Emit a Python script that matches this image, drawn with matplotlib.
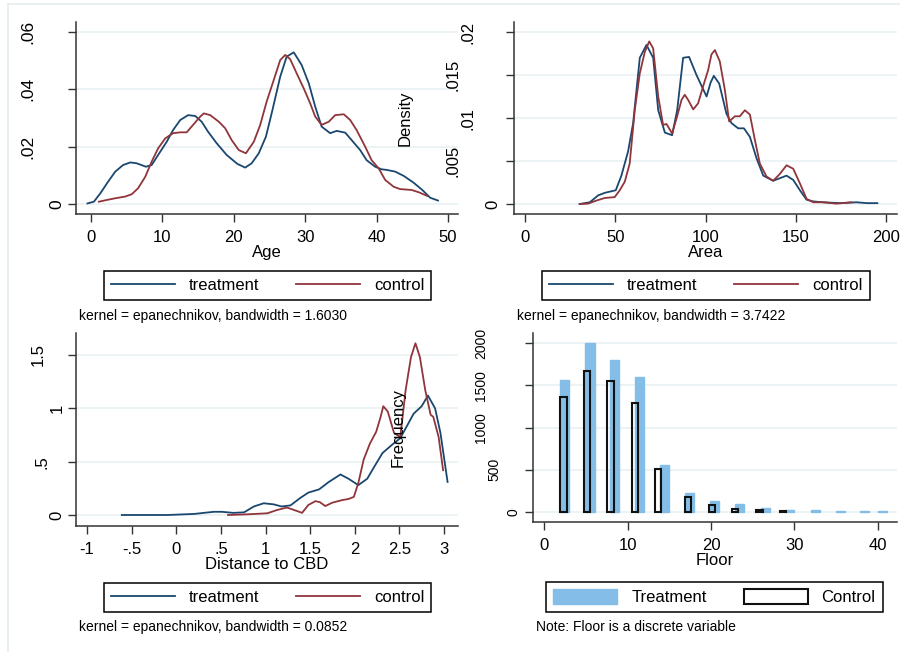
import matplotlib
matplotlib.use("Agg")
import matplotlib.pyplot as plt
from matplotlib.lines import Line2D
from matplotlib.patches import Patch

plt.rcParams['font.family'] = ['Liberation Sans', 'DejaVu Sans']

# ---------------- data ----------------
age_treat_x = [-0.5, 0.4, 1.3, 2.4, 3.4, 4.5, 5.5, 6.4, 7.7, 8.5, 9.4, 10.6, 11.5, 12.5, 13.6, 14.6, 15.5, 16.4,
               17.6, 19.0, 20.5, 21.6, 22.5, 23.5, 24.5, 25.3, 26.5, 27.4, 28.4, 29.5, 30.5, 31.4, 32.3, 33.5,
               34.4, 35.6, 36.5, 37.7, 38.6, 39.8, 40.7, 41.4, 42.6, 43.8, 45.2, 46.4, 47.5, 48.6]
age_treat_y = [.0002, .0008, .0037, .0078, .0113, .0136, .0145, .0142, .0130, .0136, .0171, .0217, .0258, .0293,
               .0310, .0307, .0287, .0252, .0212, .0171, .0140, .0127, .0142, .0177, .0235, .0316, .0444, .0514,
               .0529, .0485, .0421, .0340, .0270, .0247, .0255, .0249, .0223, .0188, .0153, .0130, .0121, .0119,
               .0113, .0098, .0074, .0049, .0022, .0012]
age_ctrl_x = [1.1, 2.2, 3.4, 4.8, 5.7, 6.6, 7.6, 8.5, 9.4, 10.4, 11.5, 12.5, 13.4, 14.3, 15.3, 15.8, 16.7, 17.9,
              18.8, 19.7, 20.7, 21.7, 22.8, 23.7, 24.6, 25.6, 26.5, 27.2, 27.9, 28.8, 29.8, 30.7, 31.4, 32.3,
              33.3, 34.2, 35.4, 36.3, 37.2, 38.4, 39.3, 40.3, 41.2, 42.4, 43.3, 44.9, 45.9, 47.1]
age_ctrl_y = [.0008, .0014, .0020, .0026, .0034, .0055, .0095, .0148, .0194, .0229, .0247, .0250, .0250, .0276,
              .0305, .0316, .0310, .0287, .0264, .0223, .0188, .0177, .0217, .0276, .0357, .0433, .0502, .0520,
              .0505, .0456, .0403, .0351, .0305, .0276, .0287, .0310, .0313, .0293, .0258, .0200, .0153, .0124,
              .0084, .0060, .0052, .0049, .0041, .0028]

area_treat_x = [30.3, 35.9, 40.5, 44.2, 50.3, 53.4, 57.1, 59.9, 63.6, 67.3, 71.0, 73.8, 77.5, 81.5, 84.3, 87.6,
                90.9, 95.0, 100.6, 102.8, 104.6, 107.6, 111.6, 114.4, 118.1, 121.3, 124.6, 128.3, 132.0, 137.5,
                141.2, 144.9, 148.6, 152.3, 156.0, 159.7, 165.2, 174.5, 183.7, 189.3, 195.2]
area_treat_y = [0, .0002, .0010, .0013, .0016, .0033, .0061, .0094, .0170, .0185, .0170, .0109, .0083, .0080,
                .0109, .0170, .0171, .0150, .0125, .0141, .0149, .0140, .0105, .0094, .0088, .0088, .0078, .0053,
                .0033, .0027, .0030, .0033, .0028, .0016, .0005, .0003, .0002, .0001, .0002, .0001, .0001]
area_ctrl_x = [30.3, 34.9, 39.6, 44.2, 49.7, 52.5, 55.3, 58.0, 60.8, 63.6, 66.4, 68.8, 71.0, 73.8, 76.5, 78.4,
               81.5, 84.3, 86.7, 88.5, 90.4, 93.2, 95.9, 98.7, 101.5, 103.3, 105.2, 107.9, 110.7, 113.1, 116.3,
               119.0, 121.8, 124.6, 127.4, 130.1, 133.8, 137.5, 141.2, 144.9, 148.6, 152.3, 156.0, 159.7, 165.2,
               172.6, 180.9]
area_ctrl_y = [0, .00004, .0004, .0007, .0008, .0016, .0026, .0047, .0109, .0152, .0177, .0189, .0181, .0125,
               .0092, .0093, .0082, .0102, .0121, .0127, .0121, .0110, .0117, .0137, .0156, .0174, .0179, .0166,
               .0133, .0096, .0102, .0102, .0109, .0104, .0074, .0047, .0032, .0027, .0035, .0045, .0041, .0024,
               .0006, .0002, .0002, .00004, .0002]

dist_treat_x = [-0.61, -0.10, 0.20, 0.42, 0.51, 0.64, 0.76, 0.87, 0.98, 1.09, 1.18, 1.28, 1.39, 1.48, 1.60,
                1.71, 1.84, 1.93, 2.04, 2.14, 2.21, 2.31, 2.42, 2.51, 2.66, 2.75, 2.82, 2.90, 2.96, 3.04]
dist_treat_y = [0, 0, .01, .03, .03, .02, .025, .08, .11, .10, .08, .09, .16, .21, .24, .31, .38, .34, .28, .34,
                .44, .58, .66, .72, .95, 1.02, 1.12, 1.0, .77, .31]
dist_ctrl_x = [0.58, 0.79, 1.02, 1.13, 1.24, 1.32, 1.41, 1.48, 1.56, 1.61, 1.67, 1.75, 1.86, 1.93, 1.99, 2.04,
               2.10, 2.17, 2.24, 2.29, 2.32, 2.37, 2.44, 2.51, 2.57, 2.63, 2.68, 2.73, 2.79, 2.85, 2.88, 2.94, 2.99]
dist_ctrl_y = [0, .006, .016, .047, .07, .047, .02, .094, .13, .12, .084, .116, .14, .15, .17, .30, .52, .67,
               .78, .92, 1.02, .97, .77, .73, 1.17, 1.48, 1.61, 1.48, 1.17, .94, .92, .73, .42]

floor_treat_x = [2.42, 5.51, 8.4, 11.47, 14.46, 17.46, 20.46, 23.45, 26.5, 29.4, 32.5, 35.5, 38.4, 40.5]
floor_treat_n = [1564, 2000, 1802, 1592, 562, 230, 135, 91, 44, 28, 20, 10, 10, 10]
floor_ctrl_x = [2.32, 5.15, 7.95, 10.87, 13.66, 17.26, 20.1, 22.85, 25.8, 28.6]
floor_ctrl_n = [1358, 1671, 1552, 1295, 511, 174, 87, 32, 20, 8]

age_ticks = [0, 10, 20, 30, 40, 50]
area_ticks = [0, 50, 100, 150, 200]
dist_ticks = [-1, -0.5, 0, 0.5, 1, 1.5, 2, 2.5, 3]
dist_ticklabels = ["-1", "-.5", "0", ".5", "1", "1.5", "2", "2.5", "3"]
floor_ticks = [0, 10, 20, 30, 40]

age_yticks = [0, .02, .04, .06]
age_ylabels = ["0", ".02", ".04", ".06"]
area_yticks = [0, .005, .01, .015, .02]
area_ylabels = ["0", ".005", ".01", ".015", ".02"]
dist_yticks = [0, .5, 1, 1.5]
dist_ylabels = ["0", ".5", "1", "1.5"]
floor_yticks = [0, 500, 1000, 1500, 2000]
floor_ylabels = ["0", "500", "1000", "1500", "2000"]

legend_labels = ["treatment", "control"]
floor_legend_labels = ["Treatment", "Control"]
notes = ["kernel = epanechnikov, bandwidth = 1.6030",
         "kernel = epanechnikov, bandwidth = 3.7422",
         "kernel = epanechnikov, bandwidth = 0.0852",
         "Note: Floor is a discrete variable"]

# ---------------- style ----------------
W, H = 900, 652
NAVY = "#1A476F"
MAROON = "#90353B"
BARBLUE = "#84BEE8"
GRID = "#EAF2F3"
AXC = "#333333"

fig = plt.figure(figsize=(W / 100, H / 100), dpi=100)
fig.patch.set_facecolor("white")

# faint outer frame (left and top)
fig.add_artist(Line2D([8 / W, 8 / W], [0, 1 - 4 / H], transform=fig.transFigure, color="#E4ECEE", lw=1.2))
fig.add_artist(Line2D([8 / W, 1], [1 - 4 / H, 1 - 4 / H], transform=fig.transFigure, color="#E4ECEE", lw=1.2))


def make_ax(x0, x1, ytop, ybot, xa, xb, ya, yb):
    ax = fig.add_axes([x0 / W, 1 - ybot / H, (x1 - x0) / W, (ybot - ytop) / H])
    sx = (xb[1] - xa[1]) / (xb[0] - xa[0])
    lo = xa[0] - (xa[1] - x0) / sx
    ax.set_xlim(lo, lo + (x1 - x0) / sx)
    sy = (ya[1] - yb[1]) / (yb[0] - ya[0])
    lo = ya[0] - (ybot - ya[1]) / sy
    ax.set_ylim(lo, lo + (ybot - ytop) / sy)
    for s in ("top", "right"):
        ax.spines[s].set_visible(False)
    for s in ("left", "bottom"):
        ax.spines[s].set_color(AXC)
        ax.spines[s].set_linewidth(1.1)
    ax.tick_params(axis="both", direction="out", length=5.5, width=1.0, color=AXC)
    ax.tick_params(axis="x", labelsize=12, pad=6)
    ax.tick_params(axis="y", labelleft=False)
    ax.yaxis.grid(True, color=GRID, lw=1.3)
    ax.set_axisbelow(True)
    return ax


def ylabels(ax, ticks, labels, offsets, size):
    ax.set_yticks(ticks)
    for v, lab in zip(ticks, labels):
        ax.annotate(lab, xy=(0, v), xycoords=("axes fraction", "data"),
                    xytext=(-offsets[lab] * 0.72, 0), textcoords="offset points",
                    rotation=90, ha="center", va="center", fontsize=size, color="black")


def density_legend(ax, cx, cy):
    handles = [Line2D([], [], color=NAVY, lw=1.3), Line2D([], [], color=MAROON, lw=1.3)]
    leg = ax.legend(handles, legend_labels, loc="center", bbox_to_anchor=(cx / W, 1 - cy / H),
                    bbox_transform=fig.transFigure, ncol=2, frameon=True, fancybox=False,
                    edgecolor="black", framealpha=1, fontsize=12, handlelength=3.84,
                    handletextpad=0.84, columnspacing=2.2, borderpad=0.42)
    leg.get_frame().set_linewidth(1.1)
    return leg


def note(x, y, s):
    fig.text(x / W, 1 - y / H, s, ha="left", va="center", fontsize=10)


# ---- top-left: Age ----
ax1 = make_ax(76, 458, 22, 214, (0, 91), (50, 448), (0, 204), (.06, 32))
ax1.plot(age_treat_x, age_treat_y, color=NAVY, lw=1.3)
ax1.plot(age_ctrl_x, age_ctrl_y, color=MAROON, lw=1.3)
ax1.set_xticks(age_ticks)
ax1.set_xticklabels([str(t) for t in age_ticks])
ylabels(ax1, age_yticks, age_ylabels, {"0": 19, ".02": 48, ".04": 48, ".06": 48}, 12.5)
ax1.set_xlabel("Age", fontsize=12, labelpad=0)
density_legend(ax1, 267.5, 285.5)
note(79, 316, notes[0])

# ---- top-right: Area ----
ax2 = make_ax(514, 897, 22, 214, (0, 525), (200, 886), (0, 204), (.02, 32))
ax2.plot(area_treat_x, area_treat_y, color=NAVY, lw=1.3)
ax2.plot(area_ctrl_x, area_ctrl_y, color=MAROON, lw=1.3)
ax2.set_xticks(area_ticks)
ax2.set_xticklabels([str(t) for t in area_ticks])
ylabels(ax2, area_yticks, area_ylabels,
        {"0": 21, ".005": 61, ".01": 46, ".015": 61, ".02": 46}, 12)
ax2.set_xlabel("Area", fontsize=12, labelpad=0)
ax2.set_ylabel("Density", fontsize=12)
ax2.yaxis.set_label_coords((413 - 514) / 383, 0.5)
density_legend(ax2, 706, 285.5)
note(517, 316, notes[1])

# ---- bottom-left: Distance to CBD ----
ax3 = make_ax(76, 458, 333, 526, (-1, 87), (3, 444), (0, 515), (1.5, 355))
ax3.plot(dist_treat_x, dist_treat_y, color=NAVY, lw=1.3)
ax3.plot(dist_ctrl_x, dist_ctrl_y, color=MAROON, lw=1.3)
ax3.set_xticks(dist_ticks)
ax3.set_xticklabels(dist_ticklabels)
ylabels(ax3, dist_yticks, dist_ylabels, {"0": 19, ".5": 34, "1": 19, "1.5": 38}, 12)
ax3.set_xlabel("Distance to CBD", fontsize=12, labelpad=0)
density_legend(ax3, 267.5, 597)
note(79, 627, notes[2])

# ---- bottom-right: Floor ----
ax4 = make_ax(533, 897, 333, 522, (0, 544), (40, 878), (0, 512), (2000, 343))
ax4.bar(floor_treat_x, floor_treat_n, width=1.1, color=BARBLUE, edgecolor=BARBLUE, lw=1.0)
ax4.bar(floor_ctrl_x, floor_ctrl_n, width=0.75, facecolor="none", edgecolor="#111111", lw=1.5)
ax4.set_xticks(floor_ticks)
ax4.set_xticklabels([str(t) for t in floor_ticks])
ylabels(ax4, floor_yticks, floor_ylabels,
        {"0": 20, "500": 39, "1000": 52, "1500": 52, "2000": 52}, 10)
ax4.set_xlabel("Floor", fontsize=12, labelpad=0)
ax4.set_ylabel("Frequency", fontsize=12)
ax4.yaxis.set_label_coords((406 - 533) / 364, 0.5)
fh = [Patch(facecolor=BARBLUE, edgecolor=BARBLUE, lw=1.0),
      Patch(facecolor="white", edgecolor="#111111", lw=1.5)]
leg = ax4.legend(fh, floor_legend_labels, loc="center", bbox_to_anchor=(714.5 / W, 1 - 597 / H),
                 bbox_transform=fig.transFigure, ncol=2, frameon=True, fancybox=False,
                 edgecolor="black", framealpha=1, fontsize=12, handlelength=3.84, handleheight=1.0,
                 handletextpad=0.84, columnspacing=2.2, borderpad=0.42)
leg.get_frame().set_linewidth(1.1)
note(536, 627, notes[3])

fig.savefig("out.png", dpi=100, facecolor="white")
